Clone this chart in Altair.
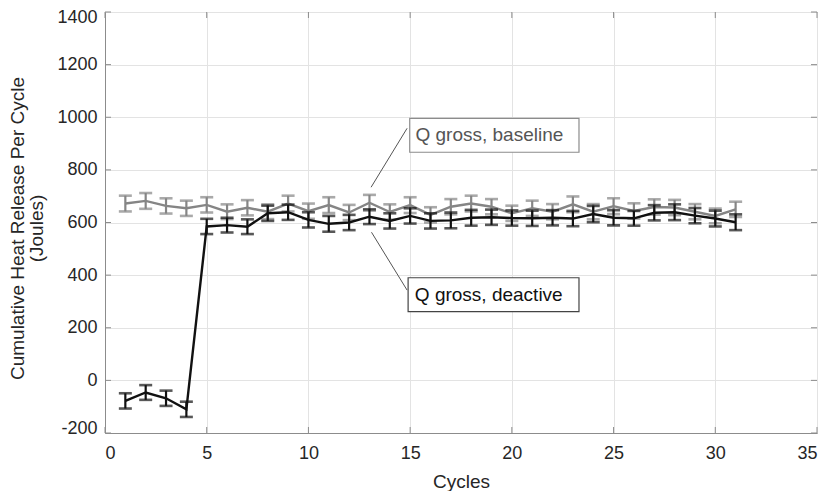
import altair as alt
import pandas as pd

# ---- data ----
cycles = list(range(1, 32))
baseline = [672, 682, 663, 654, 667, 641, 656, 641, 672, 643, 666, 638, 675, 640, 666, 629,
            660, 672, 660, 635, 654, 641, 669, 641, 662, 644, 659, 657, 641, 625, 650]
baseline_err = [30, 30, 29, 29, 29, 28, 29, 28, 30, 29, 30, 29, 30, 29, 30, 29,
                29, 30, 29, 29, 29, 29, 30, 29, 30, 29, 29, 29, 29, 28, 29]
deactive = [-78, -46, -68, -110, 585, 590, 584, 635, 639, 610, 595, 600, 622, 606, 625, 606,
            608, 618, 620, 617, 616, 618, 615, 632, 618, 616, 637, 639, 626, 615, 601]
deactive_err = [29, 28, 29, 29, 29, 28, 28, 29, 29, 29, 30, 29, 28, 29, 29, 29,
                30, 30, 29, 29, 29, 29, 29, 31, 29, 28, 29, 30, 29, 30, 30]

x_ticks = [0, 5, 10, 15, 20, 25, 30, 35]
y_ticks = [-200, 0, 200, 400, 600, 800, 1000, 1200, 1400]

labels = ["Q gross, baseline", "Q gross, deactive"]
label_box_x = [14.98, 14.9]
label_box_x2 = [23.3, 23.3]
label_box_y = [996, 390]
label_box_y2 = [867, 261]
label_text_x = [15.26, 15.23]
label_text_y = [932, 326]
leader_x = [14.85, 14.85]
leader_y = [958, 343]
leader_x2 = [13.08, 13.1]
leader_y2 = [734, 563]

GRAY = "#858585"
BLACK = "#111111"
FRAME = "#8c8c8c"
W, H = 712, 421

xscale = alt.Scale(domain=[0, 35], nice=False, zero=False)
yscale = alt.Scale(domain=[-200, 1400], nice=False, zero=False)


def series_layers(vals, errs, color):
    df = pd.DataFrame({
        "cycle": cycles,
        "value": vals,
        "lo": [v - e for v, e in zip(vals, errs)],
        "hi": [v + e for v, e in zip(vals, errs)],
    })
    base = alt.Chart(df)
    line = base.mark_line(color=color, strokeWidth=2.4).encode(
        x=alt.X("cycle:Q", scale=xscale,
                axis=alt.Axis(values=x_ticks, title="Cycles", titleY=54,
                              titleBaseline="alphabetic", labelPadding=11)),
        y=alt.Y("value:Q", scale=yscale,
                axis=alt.Axis(values=y_ticks, labelExpr="'' + datum.value",
                              labelFlush=True, labelFlushOffset=4,
                              title=["Cumulative Heat Release Per Cycle", "(Joules)"],
                              titleX=-88, titleY=216, titleBaseline="middle",
                              titleLineHeight=19, labelPadding=8)),
    )
    rule = base.mark_rule(color=color, strokeWidth=2.2).encode(
        x="cycle:Q", y="lo:Q", y2="hi:Q")
    cap_lo = base.mark_tick(color=color, orient="horizontal", size=13, thickness=2.6).encode(
        x="cycle:Q", y="lo:Q")
    cap_hi = base.mark_tick(color=color, orient="horizontal", size=13, thickness=2.6).encode(
        x="cycle:Q", y="hi:Q")
    return [line, rule, cap_lo, cap_hi]


# inward ticks like the original frame
xt = alt.Chart(pd.DataFrame({"cycle": x_ticks}))
yt = alt.Chart(pd.DataFrame({"value": y_ticks}))
tick_layers = [
    xt.mark_rule(color=FRAME, strokeWidth=1).encode(x="cycle:Q", y=alt.value(H), y2=alt.value(H - 6)),
    xt.mark_rule(color=FRAME, strokeWidth=1).encode(x="cycle:Q", y=alt.value(0), y2=alt.value(6)),
    yt.mark_rule(color=FRAME, strokeWidth=1).encode(y="value:Q", x=alt.value(0), x2=alt.value(6)),
    yt.mark_rule(color=FRAME, strokeWidth=1).encode(y="value:Q", x=alt.value(W), x2=alt.value(W - 6)),
]

ann = pd.DataFrame({
    "label": labels,
    "bx": label_box_x, "bx2": label_box_x2,
    "by": label_box_y, "by2": label_box_y2,
    "tx": label_text_x, "ty": label_text_y,
    "lx": leader_x, "ly": leader_y, "lx2": leader_x2, "ly2": leader_y2,
    "tcolor": ["#555555", "#111111"],
    "bcolor": ["#8c8c8c", "#444444"],
})
annc = alt.Chart(ann)
ann_layers = [
    annc.mark_rule(color="#555555", strokeWidth=1).encode(
        x="lx:Q", y="ly:Q", x2="lx2:Q", y2="ly2:Q"),
    annc.mark_rect(fill="white", strokeWidth=1.2).encode(
        x="bx:Q", x2="bx2:Q", y="by:Q", y2="by2:Q",
        stroke=alt.Stroke("bcolor:N", scale=None)),
    annc.mark_text(align="left", baseline="middle", fontSize=19, font="Liberation Sans").encode(
        x="tx:Q", y="ty:Q", text="label:N",
        color=alt.Color("tcolor:N", scale=None)),
]

layers = (series_layers(baseline, baseline_err, GRAY)
          + series_layers(deactive, deactive_err, BLACK)
          + tick_layers + ann_layers)

chart = alt.layer(*layers).properties(
    width=W, height=H,
    autosize=alt.AutoSizeParams(type="none"),
    padding={"left": 97, "top": 4, "right": 2, "bottom": 58},
).configure_view(
    stroke=FRAME, strokeWidth=1
).configure_axis(
    labelFont="Liberation Sans", titleFont="Liberation Sans",
    labelFontSize=18, titleFontSize=19, titleFontWeight="normal",
    labelColor="#262626", titleColor="#262626",
    domainColor=FRAME, domainWidth=1,
    gridColor="#e3e3e3", gridWidth=1,
    tickSize=0,
)

chart.save("out.html", embed_options={"renderer": "svg", "actions": False})
